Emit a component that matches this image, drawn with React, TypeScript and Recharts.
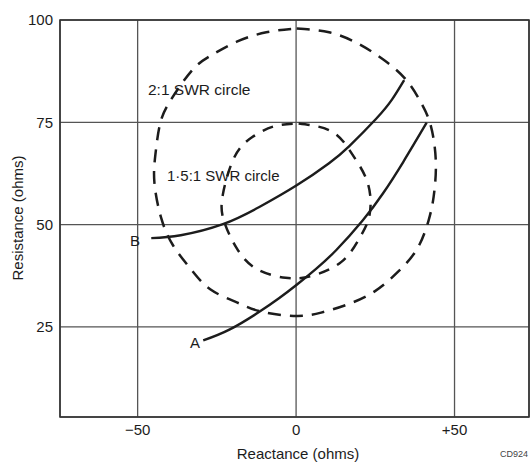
import {
  ComposedChart, Line, XAxis, YAxis, CartesianGrid, ReferenceArea,
} from 'recharts';

// reactance (x) / resistance (y) in ohms
const swr2Circle = [
  { x: 0.2, y: 97.9 }, { x: 10.4, y: 97.0 }, { x: 19.4, y: 94.3 }, { x: 27.4, y: 90.4 },
  { x: 34.5, y: 85.6 }, { x: 39.3, y: 80.0 }, { x: 42.5, y: 74.2 }, { x: 44.1, y: 65.3 },
  { x: 43.4, y: 56.8 }, { x: 41.8, y: 51.0 }, { x: 38.3, y: 44.2 }, { x: 32.2, y: 38.5 },
  { x: 24.8, y: 33.7 }, { x: 16.2, y: 30.5 }, { x: 7.9, y: 28.5 }, { x: 0.2, y: 27.7 },
  { x: -10.7, y: 28.7 }, { x: -18.7, y: 31.0 }, { x: -27.1, y: 34.2 }, { x: -33.3, y: 39.2 },
  { x: -38.8, y: 44.9 }, { x: -42.6, y: 51.7 }, { x: -44.7, y: 60.2 }, { x: -44.4, y: 67.1 },
  { x: -42.9, y: 74.7 }, { x: -39.5, y: 80.5 }, { x: -32.7, y: 87.8 }, { x: -26.5, y: 91.5 },
  { x: -18.7, y: 94.7 }, { x: -9.4, y: 97.0 }, { x: 0.2, y: 97.9 },
];

const swr15Circle = [
  { x: 0.8, y: 74.7 }, { x: 11.4, y: 72.7 }, { x: 17.8, y: 67.1 }, { x: 22.6, y: 60.2 },
  { x: 23.2, y: 52.5 }, { x: 20.0, y: 46.7 }, { x: 14.3, y: 40.9 }, { x: 5.0, y: 37.5 },
  { x: -3.3, y: 37.0 }, { x: -12.5, y: 39.2 }, { x: -18.7, y: 44.2 }, { x: -22.8, y: 51.0 },
  { x: -23.1, y: 57.4 }, { x: -19.4, y: 66.6 }, { x: -13.8, y: 71.4 }, { x: -7.0, y: 74.0 },
  { x: 0.8, y: 74.7 },
];

const curveA = [
  { x: -29.3, y: 21.7 }, { x: -20.9, y: 24.4 }, { x: -11.6, y: 28.7 }, { x: -5.4, y: 32.0 },
  { x: 0.2, y: 35.3 }, { x: 6.3, y: 39.2 }, { x: 12.7, y: 43.8 }, { x: 21.0, y: 51.0 },
  { x: 27.4, y: 57.6 }, { x: 33.8, y: 65.3 }, { x: 41.2, y: 74.9 },
];

const curveB = [
  { x: -45.7, y: 46.7 }, { x: -36.4, y: 47.4 }, { x: -23.1, y: 50.1 }, { x: -11.6, y: 54.3 },
  { x: 0.2, y: 59.6 }, { x: 10.4, y: 65.0 }, { x: 16.8, y: 69.2 }, { x: 25.2, y: 75.8 },
  { x: 30.3, y: 80.6 }, { x: 34.1, y: 85.3 },
];

const xTicks = [-50, 0, 50];
const yTicks = [25, 50, 75, 100];
const X_DOMAIN: [number, number] = [-74.5, 73.5];
const Y_DOMAIN: [number, number] = [3, 100];

const FONT = '"Liberation Sans", Arial, sans-serif';
const INK = '#1c1c1c';
const GRID = '#555';

const fmtX = (v: number) => (v < 0 ? `\u2212${Math.abs(v)}` : v > 0 ? `+${v}` : '0');

export default function App() {
  return (
    <div style={{ position: 'absolute', left: 0, top: 0, background: '#fff' }}>
      <ComposedChart
        width={530}
        height={462}
        margin={{ top: 20, right: 1, bottom: 0, left: 0 }}
        style={{ fontFamily: FONT }}
      >
        <CartesianGrid stroke={GRID} strokeWidth={1.3} />
        <XAxis
          type="number"
          dataKey="x"
          domain={X_DOMAIN}
          ticks={xTicks}
          allowDataOverflow
          height={45}
          tickSize={0}
          tickMargin={7}
          tickLine={false}
          axisLine={false}
          tickFormatter={fmtX}
          tick={{ fill: INK, fontSize: 15 }}
        />
        <YAxis
          type="number"
          dataKey="y"
          domain={Y_DOMAIN}
          ticks={yTicks}
          allowDataOverflow
          width={60}
          tickSize={0}
          tickMargin={7}
          tickLine={false}
          axisLine={false}
          tick={{ fill: INK, fontSize: 15 }}
        />
        <ReferenceArea
          x1={X_DOMAIN[0]} x2={X_DOMAIN[1]} y1={Y_DOMAIN[0]} y2={Y_DOMAIN[1]}
          fill="none" stroke="#333" strokeWidth={1.6} fillOpacity={0}
        />
        <Line data={swr2Circle} dataKey="y" type="natural" stroke={INK} strokeWidth={2.5}
          strokeDasharray="13 9" dot={false} isAnimationActive={false} />
        <Line data={swr15Circle} dataKey="y" type="natural" stroke={INK} strokeWidth={2.5}
          strokeDasharray="11 9" dot={false} isAnimationActive={false} />
        <Line data={curveA} dataKey="y" type="natural" stroke={INK} strokeWidth={2.4}
          dot={false} isAnimationActive={false} />
        <Line data={curveB} dataKey="y" type="natural" stroke={INK} strokeWidth={2.4}
          dot={false} isAnimationActive={false} />

        <text x={148} y={95} fontSize={15.5} fill={INK} fontFamily={FONT}>2:1 SWR circle</text>
        <text x={167} y={181} fontSize={15} fill={INK} fontFamily={FONT}>1·5:1 SWR circle</text>
        <text x={135} y={246} fontSize={15} fill={INK} fontFamily={FONT} textAnchor="middle">B</text>
        <text x={195} y={348} fontSize={15} fill={INK} fontFamily={FONT} textAnchor="middle">A</text>
        <text x={298} y={459} fontSize={15} fill={INK} fontFamily={FONT} textAnchor="middle">Reactance (ohms)</text>
        <text x={23} y={218} fontSize={15} fill={INK} fontFamily={FONT} textAnchor="middle"
          transform="rotate(-90 23 218)">Resistance (ohms)</text>
        <text x={528} y={457} fontSize={9} fill="#444" fontFamily={FONT} textAnchor="end">CD924</text>
      </ComposedChart>
    </div>
  );
}
